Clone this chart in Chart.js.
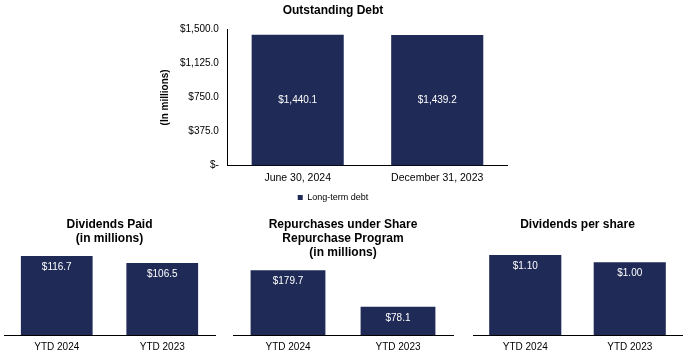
<!DOCTYPE html>
<html>
<head>
<meta charset="utf-8">
<script src="https://cdn.jsdelivr.net/npm/chart.js@4.4.1/dist/chart.umd.min.js"></script>
<style>
  body { margin: 0; background: #fff; }
  #wrap { position: relative; width: 689px; height: 353px; overflow: hidden; }
  canvas { position: absolute; }
</style>
</head>
<body>
<div id="wrap">
  <canvas id="debt" width="380" height="212" style="left:150px;top:0px"></canvas>
  <canvas id="divPaid" width="230" height="156" style="left:0px;top:205px"></canvas>
  <canvas id="repo" width="230" height="156" style="left:230px;top:205px"></canvas>
  <canvas id="dps" width="229" height="156" style="left:460px;top:205px"></canvas>
</div>
<script>
// chart data
const debtLabels = ['June 30, 2024', 'December 31, 2023'];
const debtValues = [1440.1, 1439.2];
const debtTicks = [0, 375, 750, 1125, 1500];

const ytdLabels = ['YTD 2024', 'YTD 2023'];
const dividendsPaid = [116.7, 106.5];
const repurchases = [179.7, 78.1];
const dividendsPerShare = [1.10, 1.00];

const NAVY = '#1F2A56';
const FONT = 'Arial, "Liberation Sans", sans-serif';

Chart.defaults.font.family = FONT;
Chart.defaults.color = '#000';
Chart.defaults.animation = false;

function money(v, digits) {
  return '$' + v.toLocaleString('en-US', {minimumFractionDigits: digits, maximumFractionDigits: digits});
}

// draws the white value labels on each bar
function barLabels(digits, place) {
  return {
    id: 'barLabels',
    afterDatasetsDraw(chart) {
      const ctx = chart.ctx;
      const meta = chart.getDatasetMeta(0);
      const data = chart.data.datasets[0].data;
      ctx.save();
      ctx.fillStyle = '#fff';
      ctx.font = '10px ' + FONT;
      ctx.textAlign = 'center';
      ctx.textBaseline = 'middle';
      meta.data.forEach((bar, i) => {
        const y = place === 'center' ? (bar.y + bar.base) / 2 : bar.y + 11;
        ctx.fillText(money(data[i], digits), bar.x, y);
      });
      ctx.restore();
    }
  };
}

new Chart(document.getElementById('debt'), {
  type: 'bar',
  data: {
    labels: debtLabels,
    datasets: [{
      label: 'Long-term debt',
      data: debtValues,
      backgroundColor: NAVY,
      categoryPercentage: 1,
      barPercentage: 0.66
    }]
  },
  options: {
    responsive: false,
    layout: { padding: { left: 9, right: 23, top: 0, bottom: 0 } },
    plugins: {
      title: {
        display: true,
        text: 'Outstanding Debt',
        font: { size: 12, weight: 'bold' },
        color: '#000',
        padding: { top: 3, bottom: 12 }
      },
      legend: {
        position: 'bottom',
        labels: { boxWidth: 5, boxHeight: 5, font: { size: 9 }, color: '#000', padding: 3 }
      },
      tooltip: { enabled: false }
    },
    scales: {
      y: {
        min: 0,
        max: 1500,
        afterBuildTicks: (axis) => { axis.ticks = debtTicks.map((v) => ({ value: v })); },
        ticks: {
          font: { size: 10 },
          color: '#000',
          padding: 9,
          callback: (v) => (v === 0 ? '$-' : money(v, 1))
        },
        grid: { display: false, drawTicks: false },
        border: { display: true, color: '#000' },
        title: {
          display: true,
          text: '(In millions)',
          font: { size: 10, weight: 'bold' },
          color: '#000',
          padding: { top: 0, bottom: 0 }
        }
      },
      x: {
        ticks: { font: { size: 10.5 }, color: '#000', padding: 6 },
        grid: { display: false, drawTicks: false },
        border: { display: true, color: '#000' }
      }
    }
  },
  plugins: [barLabels(1, 'center')]
});

function smallChart(id, title, values, max, digits, pct, padLeft, padRight) {
  new Chart(document.getElementById(id), {
    type: 'bar',
    data: {
      labels: ytdLabels,
      datasets: [{
        data: values,
        backgroundColor: NAVY,
        categoryPercentage: 1,
        barPercentage: pct
      }]
    },
    options: {
      responsive: false,
      layout: { padding: { left: padLeft, right: padRight, top: 0, bottom: 2 } },
      plugins: {
        title: {
          display: true,
          text: title,
          font: { size: 12, weight: 'bold' },
          color: '#000',
          padding: { top: 12, bottom: 6 },
          lineHeight: 1.15
        },
        legend: { display: false },
        tooltip: { enabled: false }
      },
      scales: {
        y: { display: false, min: 0, max: max },
        x: {
          ticks: { font: { size: 10 }, color: '#000', padding: 6 },
          grid: { display: false, drawTicks: false },
          border: { display: true, color: '#000' }
        }
      }
    },
    plugins: [barLabels(digits, 'top')]
  });
}

smallChart('divPaid', ['Dividends Paid', '(in millions)'], dividendsPaid, 123, 1, 0.68, 4, 15);
smallChart('repo', ['Repurchases under Share', 'Repurchase Program', '(in millions)'], repurchases, 191, 1, 0.68, 3, 7);
smallChart('dps', 'Dividends per share', dividendsPerShare, 1.34, 2, 0.69, 13, 7);
</script>
</body>
</html>
